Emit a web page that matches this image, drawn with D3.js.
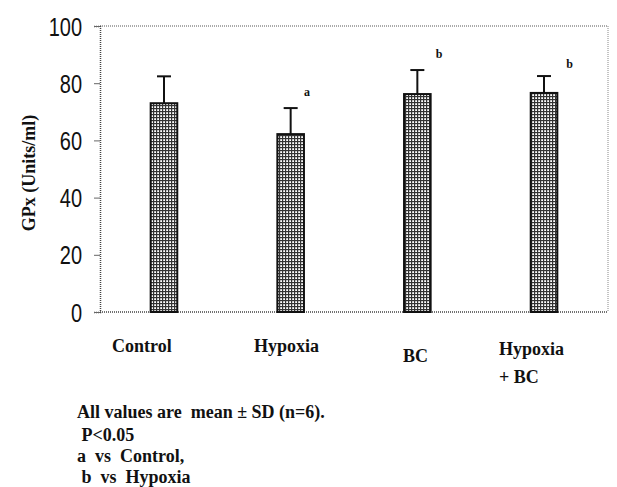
<!DOCTYPE html>
<html lang="en">
<head>
<meta charset="UTF-8">
<title>GPx chart</title>
<script src="https://cdnjs.cloudflare.com/ajax/libs/d3/7.8.5/d3.min.js"></script>
<style>
  body { margin: 0; background: #fff; }
  .tick text { font-family: "Liberation Sans", Arial, sans-serif; }
  .lbl { font-family: "Liberation Serif", "Times New Roman", serif; font-weight: bold; fill: #111; }
</style>
</head>
<body>
<svg id="chart"></svg>
<script>
// data
const groups = ["Control", "Hypoxia", "BC", "Hypoxia+BC"]
const means = [73, 62.2, 76.2, 76.6]
const sds = [9.4, 9.1, 8.4, 5.9]
const marks = ["", "a", "b", "b"]
const yTicks = [0, 20, 40, 60, 80, 100]
const notes = ["All values are  mean \u00b1 SD (n=6).", " P<0.05", "a  vs  Control,", " b  vs  Hypoxia"]

var width = 617, height = 487
var plotL = 100, plotR = 608, plotT = 26, plotB = 312

var svg = d3.select('#chart').attr('width', width).attr('height', height)

var defs = svg.append('defs')
var pat = defs.append('pattern').attr('id', 'grid')
  .attr('width', 3).attr('height', 3).attr('patternUnits', 'userSpaceOnUse')
pat.append('rect').attr('width', 3).attr('height', 3).attr('fill', '#fff')
pat.append('rect').attr('width', 3).attr('height', 1.2).attr('fill', '#333')
pat.append('rect').attr('width', 1.2).attr('height', 3).attr('fill', '#333')

var x = d3.scaleBand().domain(groups).range([plotL, plotR]).paddingInner(0.79).paddingOuter(0.4)
var y = d3.scaleLinear().domain([0, 100]).range([plotB, plotT])

// frame (dotted like the scan)
var frame = svg.append('g').attr('fill', 'none').attr('stroke-dasharray', '1,1')
frame.append('line').attr('x1', plotL).attr('x2', plotR).attr('y1', plotT).attr('y2', plotT).attr('stroke', '#555')
frame.append('line').attr('x1', plotR).attr('x2', plotR).attr('y1', plotT).attr('y2', plotB).attr('stroke', '#888')
frame.append('line').attr('x1', plotL).attr('x2', plotR).attr('y1', plotB).attr('y2', plotB).attr('stroke', '#444').attr('stroke-width', 1.5)

// narrow tick font: squeeze horizontally
var sx = 0.8
var yAxis = d3.axisLeft(y).tickValues(yTicks).tickSize(6).tickPadding(16.5)
var ya = svg.append('g').attr('transform', `translate(${plotL},0)`).call(yAxis)
ya.select('.domain').attr('stroke', '#444').attr('stroke-width', 1.5).attr('stroke-dasharray', '1,1')
ya.selectAll('.tick line').attr('stroke', '#666')
ya.selectAll('.tick text').attr('font-size', 25).attr('fill', '#111').attr('dy', '0.36em')
  .attr('transform', `scale(${sx},1)`)

// bars
svg.append('g').selectAll('rect').data(groups).enter().append('rect')
  .attr('x', d => x(d))
  .attr('y', (d, i) => y(means[i]))
  .attr('width', x.bandwidth())
  .attr('height', (d, i) => y(0) - y(means[i]))
  .attr('fill', 'url(#grid)')
  .attr('stroke', '#111').attr('stroke-width', 2)

// error bars (upper only)
var eb = svg.append('g').attr('stroke', '#111').attr('stroke-width', 2)
groups.forEach((g, i) => {
  var cx = x(g) + x.bandwidth() / 2
  eb.append('line').attr('x1', cx).attr('x2', cx).attr('y1', y(means[i])).attr('y2', y(means[i] + sds[i]))
  eb.append('line').attr('x1', cx - 7).attr('x2', cx + 7).attr('y1', y(means[i] + sds[i])).attr('y2', y(means[i] + sds[i]))
})

// significance letters
var markOff = [[0, 0], [0, 12], [5, 12], [9, 8]]
groups.forEach((g, i) => {
  if (!marks[i]) return
  svg.append('text').attr('class', 'lbl')
    .attr('x', x(g) + x.bandwidth() + markOff[i][0])
    .attr('y', y(means[i] + sds[i]) - markOff[i][1])
    .attr('font-size', 12).text(marks[i])
})

// category labels
var catPos = [[112, 352], [254, 352], [403, 362], [499, 355]]
groups.forEach((g, i) => {
  var t = svg.append('text').attr('class', 'lbl').attr('font-size', 18)
    .attr('x', catPos[i][0]).attr('y', catPos[i][1])
  if (g == "Hypoxia+BC") {
    t.append('tspan').text('Hypoxia')
    t.append('tspan').attr('x', catPos[i][0]).attr('dy', 28).text('+ BC')
  } else t.text(g)
})

// y label
svg.append('text').attr('class', 'lbl').attr('font-size', 18)
  .attr('transform', 'translate(35,173) rotate(-90)')
  .attr('text-anchor', 'middle').text('GPx (Units/ml)')

// notes
var noteY = [418, 441, 462, 483]
svg.append('g').selectAll('text').data(notes).enter().append('text')
  .attr('class', 'lbl').attr('font-size', 18)
  .attr('x', 77).attr('y', (d, i) => noteY[i])
  .style('white-space', 'pre')
  .text(d => d)
</script>
</body>
</html>
